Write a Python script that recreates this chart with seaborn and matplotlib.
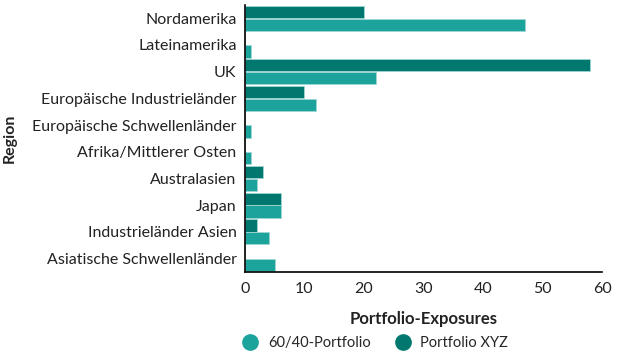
import numpy as np
import pandas as pd
import matplotlib
matplotlib.use('Agg')
import matplotlib.pyplot as plt
import seaborn as sns
from matplotlib.lines import Line2D

regionen = ['Nordamerika', 'Lateinamerika', 'UK', 'Europäische Industrieländer',
            'Europäische Schwellenländer', 'Afrika/Mittlerer Osten', 'Australasien',
            'Japan', 'Industrieländer Asien', 'Asiatische Schwellenländer']
xyz = [20, 0, 58, 10, 0, 0, 3, 6, 2, 0]
p6040 = [47, 1, 22, 12, 1, 1, 2, 6, 4, 5]

# farben
c_dunkel = '#00786F'
c_hell = '#1BA39C'

sns.set_style('white')
plt.rcParams['font.family'] = ['Lato', 'DejaVu Sans']

df = pd.DataFrame({
    'Region': regionen * 2,
    'Wert': xyz + p6040,
    'Portfolio': ['Portfolio XYZ'] * len(regionen) + ['60/40-Portfolio'] * len(regionen),
})

fig = plt.figure(figsize=(6.17, 3.54), dpi=100)
ax = fig.add_axes([0.397, 0.232, 0.579, 0.754])

sns.barplot(data=df, y='Region', x='Wert', hue='Portfolio',
            hue_order=['Portfolio XYZ', '60/40-Portfolio'],
            palette=[c_dunkel, c_hell], saturation=1, width=0.96, gap=0.04,
            edgecolor='#9fd6d2', linewidth=0.6, legend=False, ax=ax)

ax.set_xlim(0, 60)
ax.set_xticks([0, 10, 20, 30, 40, 50, 60])
ax.tick_params(axis='both', length=0, labelsize=11.5, colors='#222222')
ax.tick_params(axis='y', pad=6)
ax.tick_params(axis='x', pad=7)
for s in ['top', 'right']:
    ax.spines[s].set_visible(False)
for s in ['left', 'bottom']:
    ax.spines[s].set_color('black')
    ax.spines[s].set_linewidth(1.2)

ax.set_xlabel('Portfolio-Exposures', fontsize=12, fontweight='bold', color='#222222', labelpad=11)
ax.set_ylabel('Region', fontsize=11.5, fontweight='bold', color='#222222')
ax.yaxis.set_label_coords(-0.638, 0.5)

handles = [Line2D([], [], marker='o', linestyle='', markersize=11, color=c_hell),
           Line2D([], [], marker='o', linestyle='', markersize=11, color=c_dunkel)]
fig.legend(handles, ['60/40-Portfolio', 'Portfolio XYZ'], loc='center', ncol=2,
           bbox_to_anchor=(0.603, 0.032), frameon=False, fontsize=10.5,
           handletextpad=0.2, columnspacing=1.2, borderpad=0)

plt.savefig('out.png', dpi=100)
